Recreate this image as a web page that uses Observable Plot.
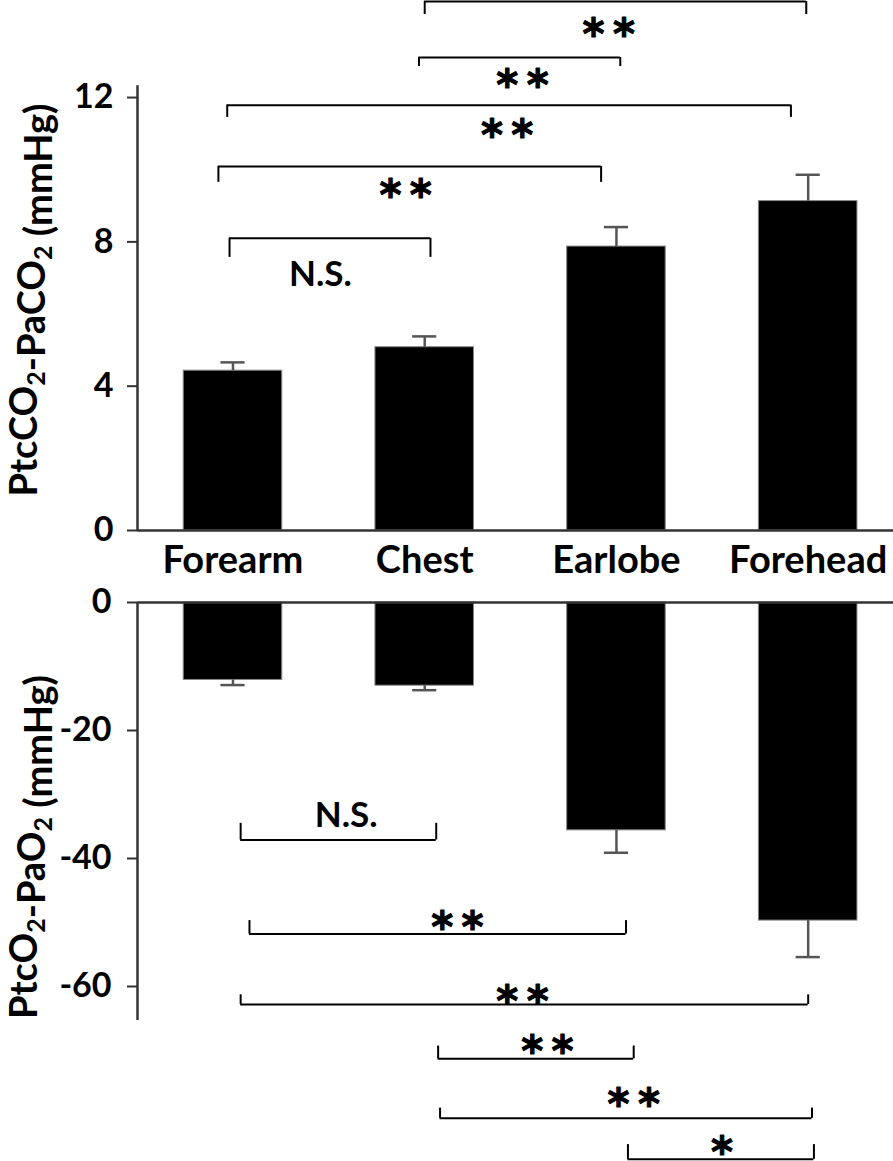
<!DOCTYPE html>
<html><head><meta charset="utf-8">
<script src="https://cdn.jsdelivr.net/npm/d3@7"></script>
<script src="https://cdn.jsdelivr.net/npm/@observablehq/plot@0.6"></script>
<style>
body{margin:0;background:#fff;}
#chart{position:relative;width:893px;height:1161px;overflow:hidden;background:#fff;}
#chart svg{position:absolute;left:0;}
</style></head><body><div id="chart"></div>
<script>
// ---- data ----
const sites = ["Forearm", "Chest", "Earlobe", "Forehead"];
const co2Mean = [4.43, 5.08, 7.87, 9.13];
const co2Err = [0.23, 0.30, 0.54, 0.73];
const o2Mean = [-12.1, -13.0, -35.6, -49.7];
const o2Err = [0.8, 0.7, 3.5, 5.7];
const co2Ticks = [0, 4, 8, 12];
const o2Ticks = [0, -20, -40, -60];
// significance brackets (category-index units for x, data units for y)
const co2Brackets = [
  {from: 1.00, to: 2.99, level: 14.66, tip: 14.30, label: "**", lx: 1.96, ly: 13.94},
  {from: 0.97, to: 2.02, level: 13.11, tip: 12.86, label: "**", lx: 1.51, ly: 12.53},
  {from: -0.03, to: 2.91, level: 11.79, tip: 11.45, label: "**", lx: 1.43, ly: 11.14},
  {from: -0.076, to: 1.92, level: 10.09, tip: 9.65, label: "**", lx: 0.90, ly: 9.48},
  {from: -0.018, to: 1.03, level: 8.10, tip: 7.57, label: "N.S.", lx: 0.456, ly: 7.10}
];
const o2Brackets = [
  {from: 0.04, to: 1.06, level: -37.1, tip: -34.5, label: "N.S.", lx: 0.59, ly: -33.3},
  {from: 0.086, to: 2.05, level: -51.8, tip: -49.7, label: "**", lx: 1.17, ly: -49.7},
  {from: 0.04, to: 3.00, level: -62.8, tip: -61.3, label: "**", lx: 1.51, ly: -61.2},
  {from: 1.07, to: 2.09, level: -71.3, tip: -69.3, label: "**", lx: 1.64, ly: -69.1},
  {from: 1.08, to: 3.02, level: -80.6, tip: -79.0, label: "**", lx: 2.09, ly: -77.3},
  {from: 2.06, to: 3.03, level: -87.0, tip: -84.7, label: "*", lx: 2.55, ly: -84.9}
];

// ---- helpers ----
const halfW = 0.257, capW = 0.063;
const xDomain = [-0.498, 3.445];
const FONT = "Lato, 'Open Sans', sans-serif";
const co2Data = sites.map((s, i) => ({i, site: s, mean: co2Mean[i], err: co2Err[i]}));
const o2Data = sites.map((s, i) => ({i, site: s, mean: o2Mean[i], err: o2Err[i]}));

function bracketMarks(br) {
  const ends = br.flatMap(b => [{x: b.from, y1: b.level, y2: b.tip}, {x: b.to, y1: b.level, y2: b.tip}]);
  return [
    Plot.ruleY(br, {y: "level", x1: "from", x2: "to", stroke: "black", strokeWidth: 2}),
    Plot.ruleX(ends, {x: "x", y1: "y1", y2: "y2", stroke: "black", strokeWidth: 2}),
    Plot.text(br.filter(b => b.label !== "N.S."), {x: "lx", y: "ly", text: d => d.label.split("").join("\u2009"), fontSize: 42, fontWeight: "bold", fontFamily: "DejaVu Sans", dy: 8, fill: "black", stroke: "black", strokeWidth: 1}),
    Plot.text(br.filter(b => b.label === "N.S."), {x: "lx", y: "ly", text: "label", fontSize: 35, fontWeight: "bold", fontFamily: FONT, fill: "black"})
  ];
}

const chart = document.getElementById("chart");

const topPlot = Plot.plot({
  width: 893, height: 580,
  marginLeft: 137, marginRight: 0, marginTop: 0, marginBottom: 50,
  x: {domain: xDomain, axis: null},
  y: {domain: [0, 14.69], axis: null},
  style: {background: "transparent", overflow: "visible", fontFamily: FONT},
  marks: [
    Plot.rectY(co2Data, {x1: d => d.i - halfW, x2: d => d.i + halfW, y1: 0, y2: "mean", fill: "black", stroke: "#888", strokeWidth: 1}),
    Plot.ruleX(co2Data, {x: "i", y1: "mean", y2: d => d.mean + d.err, stroke: "#555", strokeWidth: 2.5}),
    Plot.ruleY(co2Data, {y: d => d.mean + d.err, x1: d => d.i - capW, x2: d => d.i + capW, stroke: "#555", strokeWidth: 2.5}),
    Plot.ruleX([xDomain[0]], {y1: 0, y2: 12.33, stroke: "#333", strokeWidth: 2.5}),
    Plot.ruleY([0], {x1: xDomain[0], x2: xDomain[1], stroke: "#333", strokeWidth: 2.5}),
    Plot.axisY({ticks: co2Ticks, tickSize: 10, tickPadding: 14, fontSize: 34, fontWeight: "bold", stroke: "#333", strokeWidth: 2, label: null, fill: "black"}),
    Plot.axisX({ticks: [0, 1, 2, 3], tickFormat: i => sites[i], tickSize: 0, tickPadding: 16, fontSize: 38, fontWeight: "bold", label: null, fill: "black"}),
    ...bracketMarks(co2Brackets)
  ]
});
topPlot.style.top = "0px";
chart.appendChild(topPlot);

const botPlot = Plot.plot({
  width: 893, height: 581,
  marginLeft: 137, marginRight: 0, marginTop: 0, marginBottom: 0,
  x: {domain: xDomain, axis: null},
  y: {domain: [-87.34, 3.4375], axis: null},
  style: {background: "transparent", overflow: "visible", fontFamily: FONT},
  marks: [
    Plot.rectY(o2Data, {x1: d => d.i - halfW, x2: d => d.i + halfW, y1: 0, y2: "mean", fill: "black", stroke: "#888", strokeWidth: 1}),
    Plot.ruleX(o2Data, {x: "i", y1: "mean", y2: d => d.mean - d.err, stroke: "#555", strokeWidth: 2.5}),
    Plot.ruleY(o2Data, {y: d => d.mean - d.err, x1: d => d.i - capW, x2: d => d.i + capW, stroke: "#555", strokeWidth: 2.5}),
    Plot.ruleX([xDomain[0]], {y1: 0, y2: -65.3, stroke: "#333", strokeWidth: 2.5}),
    Plot.ruleY([0], {x1: xDomain[0], x2: xDomain[1], stroke: "#333", strokeWidth: 2.5}),
    Plot.axisY({ticks: o2Ticks, tickFormat: d => d === 0 ? "0" : String(d), tickSize: 10, tickPadding: 16, fontSize: 34, fontWeight: "bold", stroke: "#333", strokeWidth: 2, label: null, fill: "black"}),
    ...bracketMarks(o2Brackets)
  ]
});
botPlot.style.top = "580px";
chart.appendChild(botPlot);

// rotated y-axis titles with subscripts
function addTitle(svg, cx, cy, parts) {
  const t = d3.select(svg).append("text")
    .attr("transform", `translate(${cx},${cy}) rotate(-90)`)
    .attr("text-anchor", "middle")
    .attr("font-family", FONT).attr("font-weight", "bold").attr("font-size", 38).attr("fill", "black");
  parts.forEach(([s, sub]) => {
    if (sub) {
      t.append("tspan").attr("font-size", 25).attr("dy", "0.3em").text(s);
      t.append("tspan").attr("dy", "-0.2em").text("");
    } else t.append("tspan").text(s);
  });
}
addTitle(topPlot, 37, 300, [["PtcCO"], ["2", true], ["-PaCO"], ["2", true], [" (mmHg)"]]);
addTitle(botPlot, 37, 847 - 580, [["PtcO"], ["2", true], ["-PaO"], ["2", true], [" (mmHg)"]]);
</script></body></html>
